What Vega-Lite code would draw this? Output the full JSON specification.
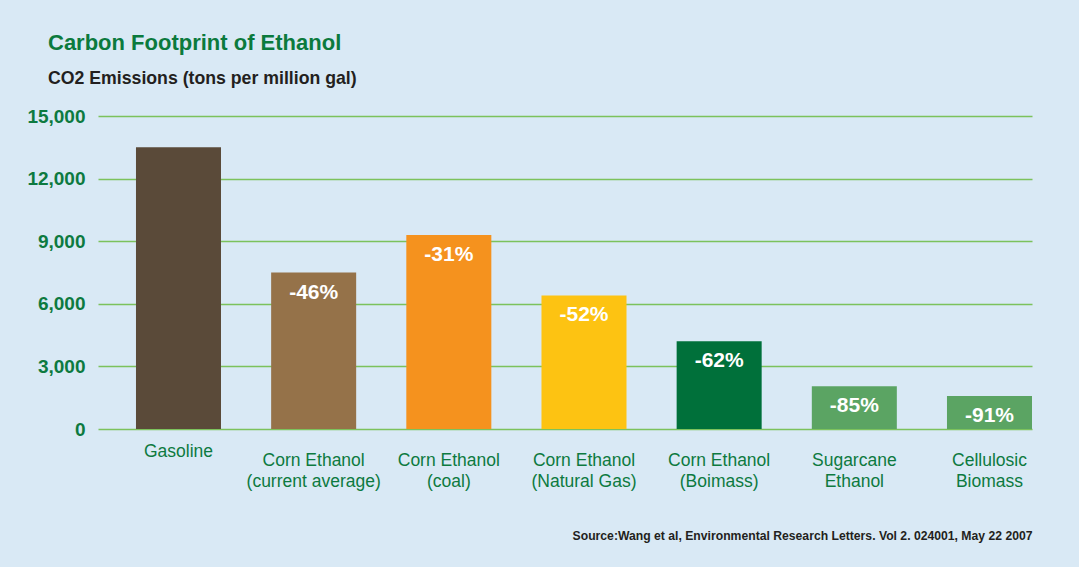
{
  "$schema": "https://vega.github.io/schema/vega-lite/v6.json",
  "autosize": "none",
  "width": 934,
  "height": 313,
  "padding": {"left": 98, "top": 116, "right": 47, "bottom": 138},
  "background": "#d9e9f5",
  "config": {
    "font": "Liberation Sans",
    "view": {"stroke": null}
  },
  "title": {
    "text": "Carbon Footprint of Ethanol",
    "subtitle": "CO2 Emissions (tons per million gal)",
    "anchor": "start",
    "frame": "group",
    "dx": -50,
    "offset": 18,
    "fontSize": 22,
    "fontWeight": "bold",
    "color": "#0b7a3d",
    "subtitleFontSize": 17.7,
    "subtitleFontWeight": "bold",
    "subtitleColor": "#231f20",
    "subtitlePadding": 15
  },
  "data": {
    "values": [
      {"fuel": "Gasoline", "co2": 13500, "change": ""},
      {"fuel": "Corn Ethanol\n(current average)", "co2": 7500, "change": "-46%"},
      {"fuel": "Corn Ethanol\n(coal)", "co2": 9300, "change": "-31%"},
      {"fuel": "Corn Ethanol\n(Natural Gas)", "co2": 6400, "change": "-52%"},
      {"fuel": "Corn Ethanol\n(Boimass)", "co2": 4200, "change": "-62%"},
      {"fuel": "Sugarcane\nEthanol", "co2": 2050, "change": "-85%"},
      {"fuel": "Cellulosic\nBiomass", "co2": 1580, "change": "-91%"}
    ]
  },
  "encoding": {
    "x": {
      "field": "fuel",
      "type": "nominal",
      "sort": null,
      "scale": {"paddingInner": 0.371, "paddingOuter": 0.1405, "align": 1},
      "axis": {
        "title": "Source:Wang et al, Environmental Research Letters. Vol 2. 024001, May 22 2007",
        "titleAnchor": "end",
        "titleFontSize": 12.2,
        "titleFontWeight": "bold",
        "titleColor": "#231f20",
        "titlePadding": 39,
        "labelAngle": 0,
        "labelExpr": "split(datum.label, '\\n')",
        "labelFontSize": 17.5,
        "labelColor": "#0d7a40",
        "labelLineHeight": 21.7,
        "labelAlign": "center",
        "labelBaseline": {"condition": {"test": "datum.value == 'Gasoline'", "value": "middle"}, "value": "top"},
        "labelPadding": 22,
        "labelLimit": 300,
        "domain": false,
        "ticks": false,
        "grid": false
      }
    },
    "y": {
      "field": "co2",
      "type": "quantitative",
      "scale": {"domain": [0, 15000], "nice": false},
      "axis": {
        "title": null,
        "values": [0, 3000, 6000, 9000, 12000, 15000],
        "format": ",.0f",
        "labelFontSize": 19,
        "labelFontWeight": "bold",
        "labelColor": "#0d7a40",
        "labelPadding": 13,
        "domain": false,
        "ticks": false,
        "grid": true,
        "gridColor": "#7cc25c",
        "gridWidth": 1.5,
        "gridOpacity": 1
      }
    }
  },
  "layer": [
    {
      "mark": {"type": "bar"},
      "encoding": {
        "color": {
          "field": "fuel",
          "type": "nominal",
          "sort": null,
          "legend": null,
          "scale": {
            "domain": ["Gasoline", "Corn Ethanol\n(current average)", "Corn Ethanol\n(coal)", "Corn Ethanol\n(Natural Gas)", "Corn Ethanol\n(Boimass)", "Sugarcane\nEthanol", "Cellulosic\nBiomass"],
            "range": ["#5a4a39", "#957249", "#f5921e", "#fdc312", "#00703a", "#5ba463", "#5ba463"]
          }
        }
      }
    },
    {
      "mark": {"type": "text", "fontSize": 21, "fontWeight": "bold", "color": "white", "baseline": "middle", "dy": 20},
      "encoding": {"text": {"field": "change"}}
    }
  ]
}
